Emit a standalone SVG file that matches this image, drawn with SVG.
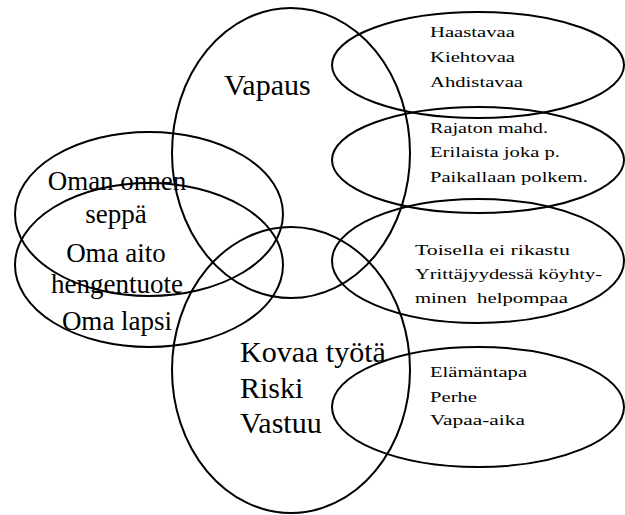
<svg xmlns="http://www.w3.org/2000/svg" width="625" height="515" viewBox="0 0 625 515">
<style>
.e{fill:none;stroke:#000;stroke-width:2}
text{font-family:'Liberation Serif','DejaVu Serif','Times New Roman',Times,serif;fill:#000}
.big{font-size:30px}
.mid{font-size:27px;text-anchor:middle}
.sm{font-size:15px}
</style>
<rect width="625" height="515" fill="#fff"/>
<g id="vapaus">
<ellipse class="e" cx="291" cy="153" rx="119" ry="145"/>
<text class="big" x="224" y="95" font-family="Liberation Serif, serif">Vapaus</text>
</g>
<g id="kovaa">
<ellipse class="e" cx="291" cy="370" rx="119" ry="143"/>
<text class="big" x="240" y="362">Kovaa työtä</text>
<text class="big" x="240" y="398">Riski</text>
<text class="big" x="240" y="433">Vastuu</text>
</g>
<g id="oman">
<ellipse class="e" cx="149" cy="214" rx="134" ry="82"/>
<ellipse class="e" cx="149" cy="265" rx="134" ry="82"/>
<text class="mid" x="117" y="190">Oman onnen</text>
<text class="mid" x="116" y="223">seppä</text>
<text class="mid" x="116" y="262">Oma aito</text>
<text class="mid" x="117" y="293">hengentuote</text>
<text class="mid" x="117" y="330">Oma lapsi</text>
</g>
<g id="haastavaa">
<ellipse class="e" cx="478" cy="65" rx="146" ry="53"/>
<text class="sm" x="430" y="37" textLength="85" lengthAdjust="spacingAndGlyphs">Haastavaa</text>
<text class="sm" x="430" y="62" textLength="85" lengthAdjust="spacingAndGlyphs">Kiehtovaa</text>
<text class="sm" x="430" y="87" textLength="93" lengthAdjust="spacingAndGlyphs">Ahdistavaa</text>
</g>
<g id="rajaton">
<ellipse class="e" cx="478" cy="160" rx="146" ry="53"/>
<text class="sm" x="430" y="133" textLength="118" lengthAdjust="spacingAndGlyphs">Rajaton mahd.</text>
<text class="sm" x="430" y="157" textLength="130" lengthAdjust="spacingAndGlyphs">Erilaista joka p.</text>
<text class="sm" x="430" y="182" textLength="158" lengthAdjust="spacingAndGlyphs">Paikallaan polkem.</text>
</g>
<g id="toisella">
<ellipse class="e" cx="478" cy="261" rx="146" ry="62"/>
<text class="sm" x="415" y="255" textLength="155" lengthAdjust="spacingAndGlyphs">Toisella ei rikastu</text>
<text class="sm" x="415" y="279" textLength="187" lengthAdjust="spacingAndGlyphs">Yrittäjyydessä köyhty-</text>
<text class="sm" x="415" y="303" textLength="153" lengthAdjust="spacingAndGlyphs" xml:space="preserve">minen  helpompaa</text>
</g>
<g id="elamantapa">
<ellipse class="e" cx="478" cy="407" rx="146" ry="60"/>
<text class="sm" x="430" y="377" textLength="97" lengthAdjust="spacingAndGlyphs">Elämäntapa</text>
<text class="sm" x="430" y="402" textLength="47" lengthAdjust="spacingAndGlyphs">Perhe</text>
<text class="sm" x="430" y="425" textLength="95" lengthAdjust="spacingAndGlyphs">Vapaa-aika</text>
</g>
<g id="connectors"></g>
</svg>
